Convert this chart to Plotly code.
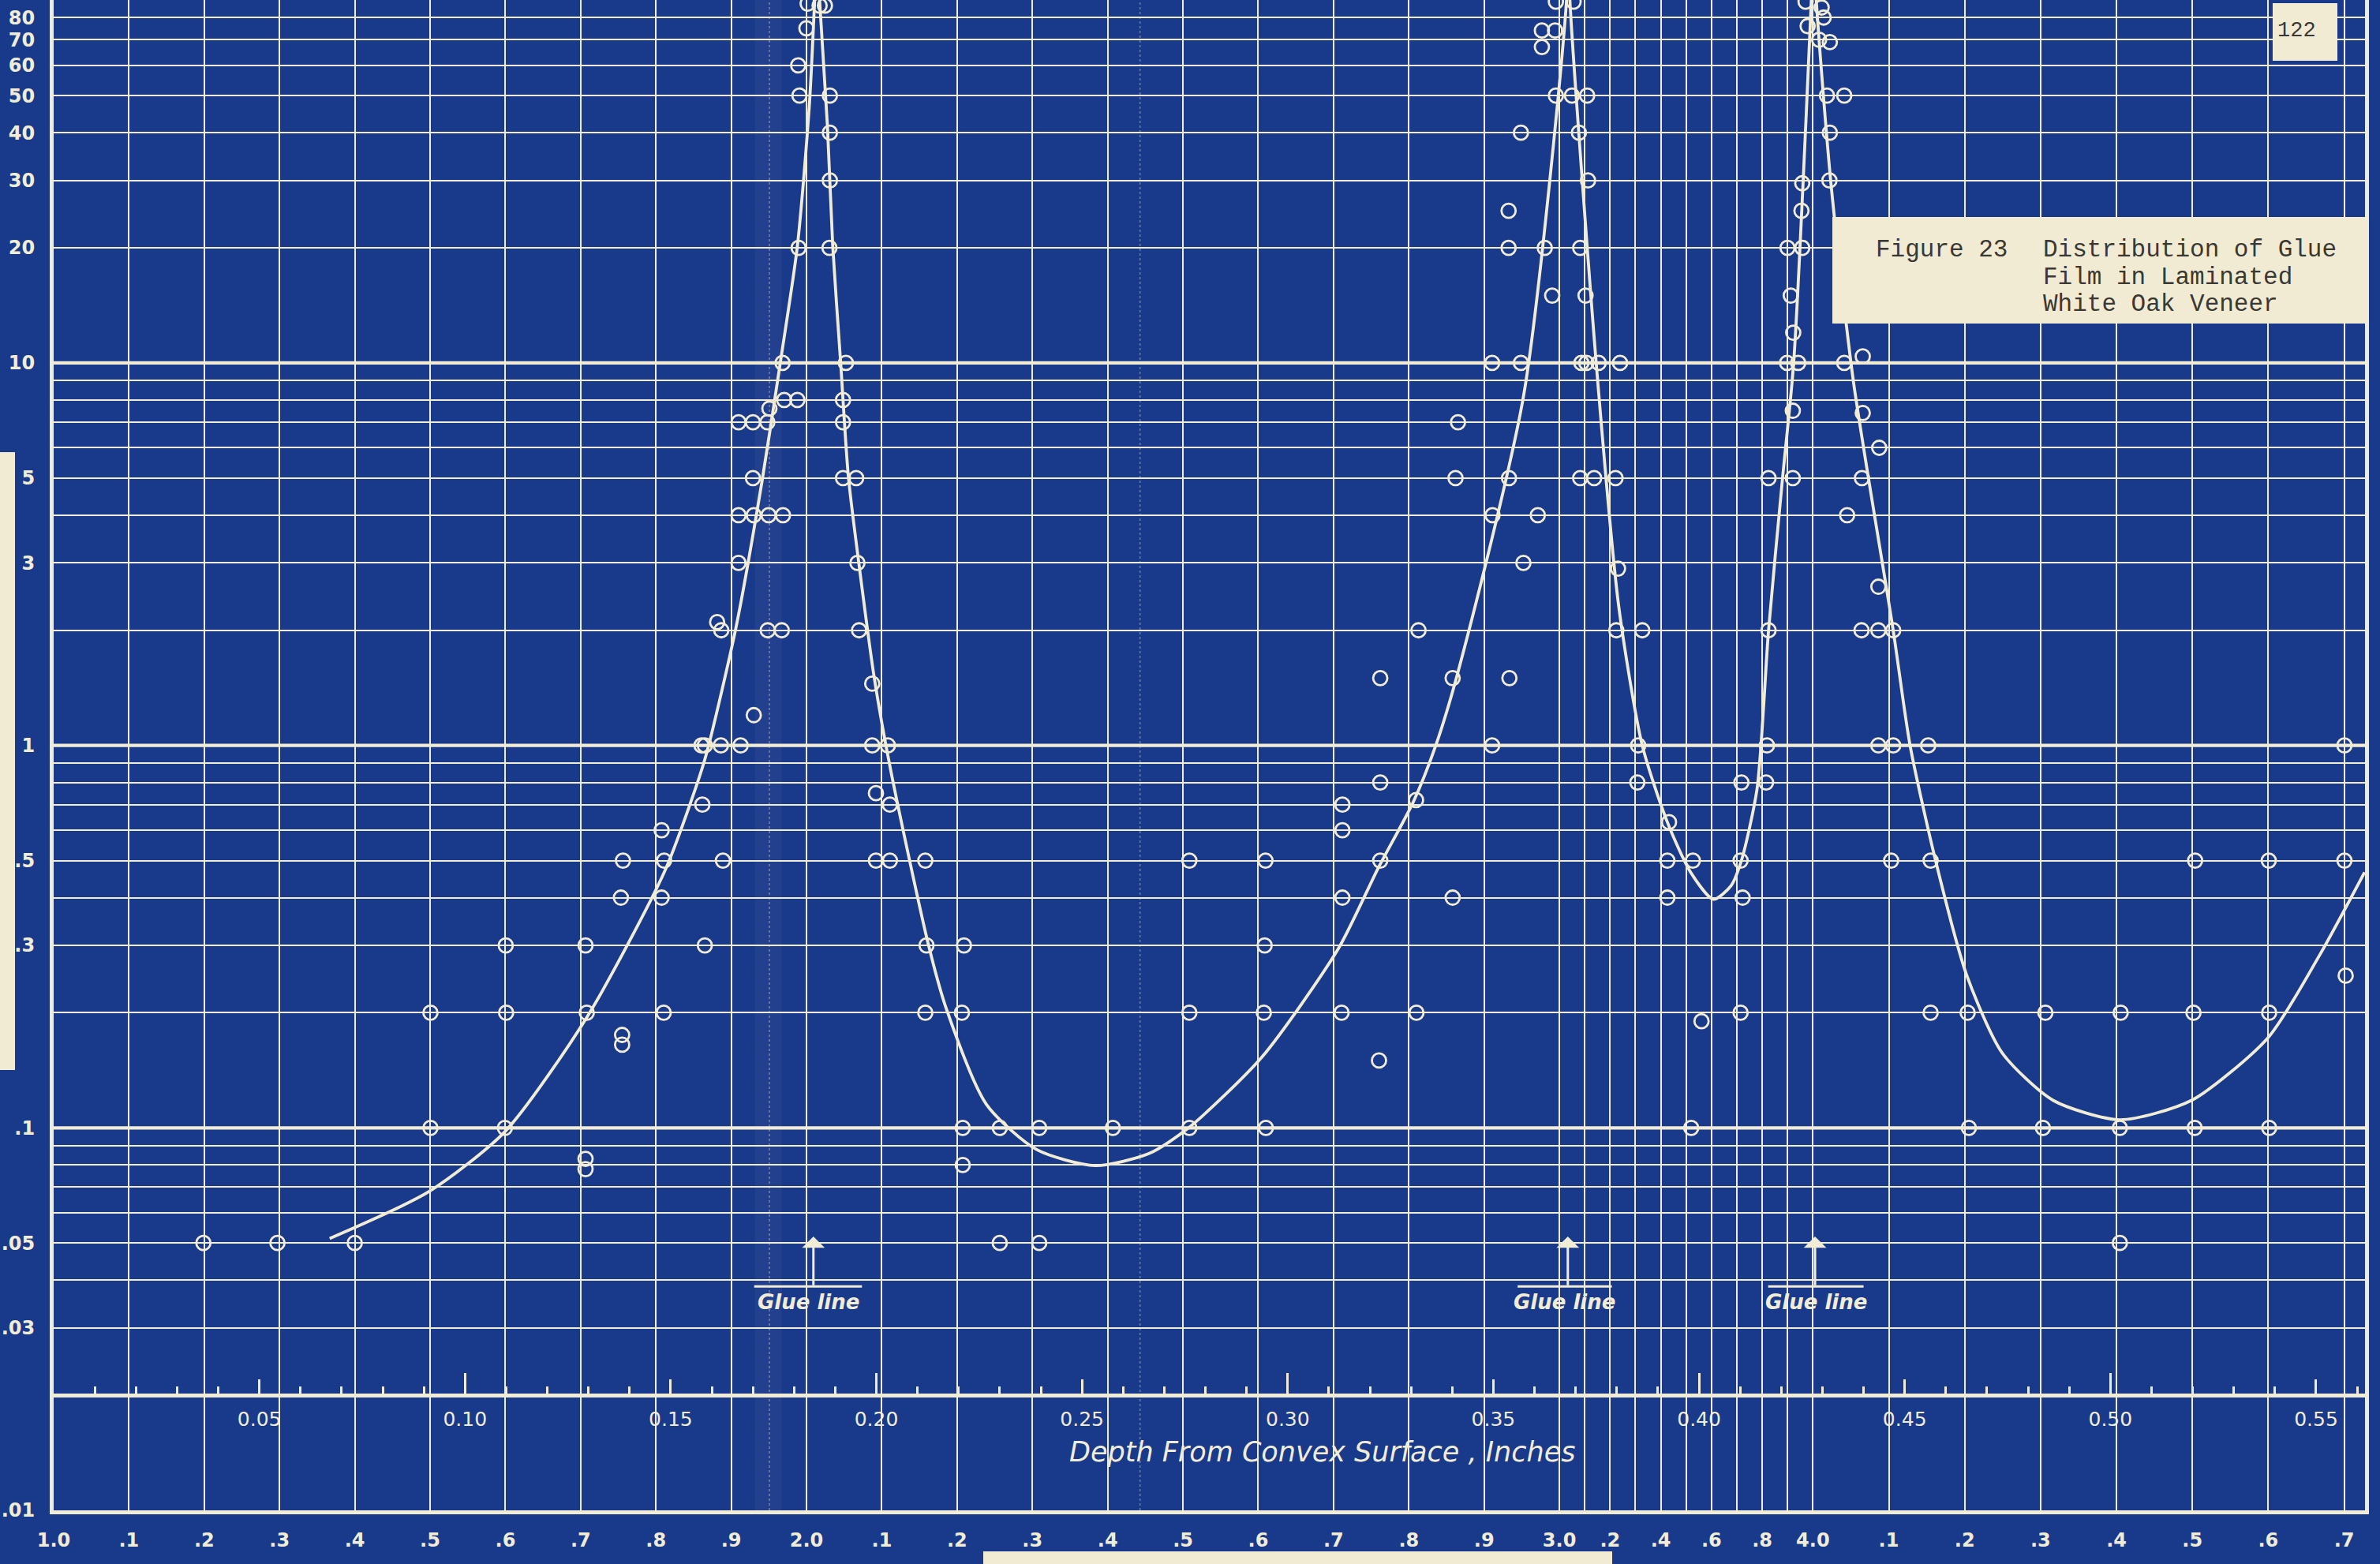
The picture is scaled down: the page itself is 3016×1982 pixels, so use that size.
import math
import numpy as np
import plotly.graph_objects as go

# ---------------------------------------------------------------- colours
BLUE = "#19398a"       # blueprint ground
CREAM = "#f1ecd6"      # white of the print
PAPER = "#f2ebd3"      # pasted paper slips
INK = "#3a3833"        # typewriter ink

# ------------------------------------------------ measured glue film (circles)
obs_depth = [
    0.0364, 0.0544, 0.0732, 0.0916, 0.0916, 0.1097, 0.1100, 0.1099,
    0.1296, 0.1293, 0.1293, 0.1293, 0.1379, 0.1384, 0.1382, 0.1382,
    0.1483, 0.1478, 0.1484, 0.1478, 0.1583, 0.1577, 0.1627,
    0.1575, 0.1583, 0.1622, 0.1670, 0.1702, 0.1613, 0.1623, 0.1736, 0.1770,
    0.1665, 0.1665, 0.1702, 0.1738, 0.1773, 0.1700, 0.1665, 0.1700, 0.1735, 0.1740,
    0.1776, 0.1808, 0.1772, 0.1811, 0.1813, 0.1810, 0.1830, 0.1833, 0.1862, 0.1875,
    0.1887, 0.1887, 0.1887, 0.1886, 0.1926, 0.1919, 0.1919, 0.1919, 0.1951, 0.1954,
    0.1958, 0.1990, 0.1990, 0.2028, 0.1999, 0.2033, 0.1999, 0.2033, 0.2119, 0.2122,
    0.2213, 0.2119, 0.2208, 0.2210, 0.2210,
    0.2300, 0.2396, 0.2575, 0.2761, 0.2947, 0.2300, 0.2396,
    0.2761, 0.2946, 0.2944, 0.2761, 0.2942, 0.3131, 0.3133, 0.3133, 0.3133, 0.3222,
    0.3225, 0.3225, 0.3225, 0.3313, 0.3312, 0.3318, 0.3401, 0.3401, 0.3414, 0.3408,
    0.3497, 0.3539, 0.3498, 0.3497, 0.3537, 0.3537, 0.3538, 0.3567, 0.3567, 0.3573,
    0.3608, 0.3618, 0.3618, 0.3650, 0.3652, 0.3695, 0.3643, 0.3625, 0.3652, 0.3691,
    0.3728, 0.3708, 0.3730, 0.3711, 0.3724, 0.3714, 0.3726, 0.3756, 0.3808,
    0.3711, 0.3745, 0.3797, 0.3803, 0.3799, 0.3862, 0.3852, 0.3850,
    0.3927, 0.3923, 0.3985, 0.3923, 0.3981, 0.4006,
    0.4101, 0.4103, 0.4106, 0.4101, 0.4163, 0.4165, 0.4169, 0.4169, 0.4228, 0.4228,
    0.4214, 0.4241, 0.4215, 0.4251, 0.4223, 0.4229, 0.4249, 0.4251,
    0.4259, 0.4264, 0.4298, 0.4303, 0.4292, 0.4318, 0.4311, 0.4353, 0.4318, 0.4317,
    0.4353, 0.4398, 0.4398, 0.4438, 0.4396, 0.4360, 0.4436,
    0.4395, 0.4436, 0.4472, 0.4436, 0.4472, 0.4557,
    0.4467, 0.4563, 0.4563, 0.4653, 0.4842, 0.5025, 0.5202, 0.5386,
    0.4656, 0.4836, 0.5023, 0.5205, 0.5386, 0.5023,
    0.5206, 0.5385, 0.5569, 0.5569, 0.5572,
]
obs_value = [
    0.05, 0.05, 0.05, 0.2, 0.1, 0.1, 0.2, 0.3,
    0.2, 0.3, 0.083, 0.078, 0.4, 0.5, 0.175, 0.165,
    0.2, 0.4, 0.5, 0.6, 0.3, 0.7, 0.5,
    1.0, 1.0, 1.0, 1.0, 1.2, 2.1, 2.0, 2.0, 2.0,
    3.0, 4.0, 4.0, 4.0, 4.0, 5.0, 7.0, 7.0, 7.0, 7.6,
    8.0, 8.0, 10.0, 20.0, 50.0, 60.0, 75.0, 87.0, 86.0, 86.0,
    50.0, 40.0, 30.0, 20.0, 10.0, 8.0, 7.0, 5.0, 5.0, 3.0,
    2.0, 1.45, 1.0, 1.0, 0.75, 0.70, 0.5, 0.5, 0.5, 0.3,
    0.3, 0.2, 0.2, 0.1, 0.08,
    0.1, 0.1, 0.1, 0.1, 0.1, 0.05, 0.05,
    0.5, 0.5, 0.3, 0.2, 0.2, 0.2, 0.4, 0.6, 0.7, 0.15,
    0.5, 0.8, 1.5, 0.2, 0.72, 2.0, 1.5, 0.4, 7.0, 5.0,
    1.0, 1.5, 4.0, 10.0, 25.0, 20.0, 5.0, 40.0, 10.0, 3.0,
    4.0, 74.0, 67.0, 74.0, 88.0, 88.0, 15.0, 20.0, 50.0, 50.0,
    50.0, 40.0, 30.0, 20.0, 15.0, 10.0, 10.0, 10.0, 10.0,
    5.0, 5.0, 5.0, 2.9, 2.0, 2.0, 1.0, 0.8,
    0.63, 0.5, 0.5, 0.4, 0.1, 0.19,
    0.5, 0.8, 0.4, 0.2, 0.8, 1.0, 2.0, 5.0, 5.0, 7.5,
    10.0, 10.0, 20.0, 20.0, 15.0, 12.0, 25.0, 29.5,
    88.0, 76.0, 85.0, 80.0, 70.0, 69.0, 50.0, 50.0, 40.0, 30.0,
    10.0, 10.4, 7.4, 6.0, 5.0, 4.0, 2.6,
    2.0, 2.0, 2.0, 1.0, 1.0, 1.0,
    0.5, 0.5, 0.2, 0.2, 0.2, 0.2, 0.2, 0.2,
    0.1, 0.1, 0.1, 0.1, 0.1, 0.05,
    0.5, 0.5, 0.5, 1.0, 0.25,
]

# ------------------------------------------------------ faired curve through them
curve_depth = [
    0.0671, 0.0912, 0.1098, 0.1298, 0.1484, 0.1560, 0.1588, 0.1659, 0.1722,
    0.1767, 0.1808, 0.1837, 0.1850, 0.1856, 0.1862, 0.1881, 0.1894, 0.1913,
    0.1932, 0.1957, 0.1995, 0.2035, 0.2127, 0.2170, 0.2268, 0.2390, 0.2532,
    0.2663, 0.2759, 0.2937, 0.3123, 0.3220, 0.3305, 0.3360, 0.3415, 0.3574,
    0.3678, 0.3682, 0.3686, 0.3750, 0.3805, 0.3862, 0.3923, 0.3979, 0.4035,
    0.4078, 0.4103, 0.4141, 0.4169, 0.4203, 0.4230, 0.4273, 0.4279, 0.4285,
    0.4320, 0.4375, 0.4472, 0.4513, 0.4575, 0.4650, 0.4737, 0.4861, 0.5023,
    0.5197, 0.5383, 0.5507, 0.5618,
]
curve_value = [
    0.0514, 0.0681, 0.098, 0.196, 0.465, 0.77, 0.96, 2.04, 4.9,
    10.1, 20.2, 47.0, 89.0, 130.0, 89.0, 41.8, 20.2, 10.1,
    5.04, 3.02, 1.50, 0.86, 0.30, 0.205, 0.115, 0.0877, 0.0797,
    0.0857, 0.100, 0.153, 0.294, 0.478, 0.71, 1.00, 1.57, 8.27,
    89.0, 130.0, 89.0, 10.0, 2.3, 1.0, 0.63, 0.467, 0.396,
    0.43, 0.5, 0.77, 2.0, 5.0, 10.0, 89.0, 130.0, 89.0,
    30.0, 9.0, 2.0, 1.0, 0.5, 0.252, 0.157, 0.118, 0.105,
    0.118, 0.172, 0.281, 0.466,
]

# ------------------------------------------------------------- depth scale
depth_ticks = [0.05, 0.10, 0.15, 0.20, 0.25, 0.30, 0.35, 0.40, 0.45, 0.50, 0.55]
depth_tick_text = ["0.05", "0.10", "0.15", "0.20", "0.25", "0.30",
                   "0.35", "0.40", "0.45", "0.50", "0.55"]
depth_long_ticks = [0.10, 0.20, 0.30, 0.40, 0.50]

# ----------------------------------------------------------- log ordinate
y_tick_vals = [0.01, 0.03, 0.05, 0.1, 0.3, 0.5, 1, 3, 5, 10, 20, 30, 40, 50, 60, 70, 80]
y_tick_text = [".01", ".03", ".05", ".1", ".3", ".5", "1", "3", "5",
               "10", "20", "30", "40", "50", "60", "70", "80"]
y_minor_vals = [0.02, 0.04, 0.06, 0.07, 0.08, 0.09, 0.2, 0.4, 0.6, 0.7, 0.8, 0.9,
                2, 4, 6, 7, 8, 9]
decade_lines = [0.1, 1, 10]

# ------------------------------------- printed scale of the graph sheet itself
paper_scale = [1.0, 1.1, 1.2, 1.3, 1.4, 1.5, 1.6, 1.7, 1.8, 1.9,
               2.0, 2.1, 2.2, 2.3, 2.4, 2.5, 2.6, 2.7, 2.8, 2.9,
               3.0, 3.2, 3.4, 3.6, 3.8, 4.0, 4.1, 4.2, 4.3, 4.4, 4.5, 4.6, 4.7]
paper_labels = ["1.0", ".1", ".2", ".3", ".4", ".5", ".6", ".7", ".8", ".9",
                "2.0", ".1", ".2", ".3", ".4", ".5", ".6", ".7", ".8", ".9",
                "3.0", ".2", ".4", ".6", ".8", "4.0", ".1", ".2", ".3", ".4", ".5", ".6", ".7"]
paper_minor = [3.1, 3.3, 3.5, 3.7, 3.9]
PAPER_KNOTS = [1.0, 3.0, 4.0, 4.7]
DEPTH_KNOTS = [0.0, 0.36605, 0.42768, 0.55683]


def sheet_to_depth(values):
    return [float(v) for v in np.interp(values, PAPER_KNOTS, DEPTH_KNOTS)]


# glue-line markers
glue_arrow = [0.1847, 0.3681, 0.4282]
glue_bar_from = [0.1703, 0.3559, 0.4168]
glue_bar_to = [0.1965, 0.3788, 0.4400]
GLUE_TIP = 0.052
GLUE_BAR = 0.0385

# ------------------------------------------------------------------ frame
W, H = 3016, 1982
ML, MR, MT, MB = 68, 19, 0, 68
XMAX = 0.5619
YBOT, YTOP = -2.0, 1.949
PW, PH = W - ML - MR, H - MT - MB
depth_axis_pos = (math.log10(0.02) - YBOT) / (YTOP - YBOT)


def px(xpix):
    return (xpix - ML) / PW


def py(ypix):
    return (MT + PH - ypix) / PH


HAND = "DejaVu Sans"
MONO = "Liberation Mono"

fig = go.Figure()

fig.add_trace(go.Scatter(
    x=curve_depth, y=curve_value, mode="lines",
    line=dict(color=CREAM, width=3.8, shape="spline", smoothing=0.7),
    hoverinfo="skip", showlegend=False,
))
fig.add_trace(go.Scatter(
    x=obs_depth, y=obs_value, mode="markers",
    marker=dict(symbol="circle-open", size=18, color=CREAM,
                line=dict(width=2.8, color=CREAM)),
    hoverinfo="skip", showlegend=False,
))
# carriers for the sheet scale and the long depth ticks
for ax in ("x2", "x3"):
    fig.add_trace(go.Scatter(x=[0.1], y=[1], xaxis=ax, yaxis="y", mode="markers",
                             marker=dict(opacity=0), hoverinfo="skip", showlegend=False))

shapes = []
for v in decade_lines:
    shapes.append(dict(type="line", xref="x", yref="y", x0=0, x1=XMAX, y0=v, y1=v,
                       line=dict(color=CREAM, width=4.2), layer="below"))
# fold marks of the print
shapes.append(dict(type="rect", xref="x", yref="paper", x0=0.1705, x1=0.1770, y0=0, y1=1,
                   fillcolor="rgba(255,255,255,0.04)", line=dict(width=0), layer="below"))
shapes.append(dict(type="line", xref="x", yref="paper", x0=0.1740, x1=0.1740, y0=0, y1=1,
                   line=dict(color="rgba(241,236,214,0.30)", width=2, dash="dot"), layer="below"))
shapes.append(dict(type="line", xref="x", yref="paper", x0=0.2641, x1=0.2641, y0=0, y1=1,
                   line=dict(color="rgba(241,236,214,0.30)", width=2, dash="dot"), layer="below"))
# overbars of the glue-line labels
for a, b in zip(glue_bar_from, glue_bar_to):
    shapes.append(dict(type="line", xref="x", yref="y", x0=a, x1=b, y0=GLUE_BAR, y1=GLUE_BAR,
                       line=dict(color=CREAM, width=3)))
# pasted slips
shapes.append(dict(type="rect", xref="paper", yref="paper", x0=px(2322), x1=px(3002),
                   y0=py(410), y1=py(275), fillcolor=PAPER, line=dict(width=0), layer="above"))
shapes.append(dict(type="rect", xref="paper", yref="paper", x0=px(2880), x1=px(2962),
                   y0=py(77), y1=py(4), fillcolor=PAPER, line=dict(width=0), layer="above"))
shapes.append(dict(type="rect", xref="paper", yref="paper", x0=px(0), x1=px(19),
                   y0=py(1356), y1=py(573), fillcolor=PAPER, line=dict(width=0), layer="above"))
shapes.append(dict(type="rect", xref="paper", yref="paper", x0=px(1246), x1=px(2043),
                   y0=py(1984), y1=py(1966), fillcolor=PAPER, line=dict(width=0), layer="above"))

annotations = [
    dict(text="Depth From Convex Surface , Inches", xref="paper", yref="paper",
         x=px(1675), y=py(1840), xanchor="center", yanchor="middle", showarrow=False,
         font=dict(family=HAND, size=35, color=CREAM, style="italic")),
    dict(text="Figure 23", xref="paper", yref="paper", x=px(2375), y=py(316),
         xanchor="left", yanchor="middle", showarrow=False,
         font=dict(family=MONO, size=31, color=INK)),
    dict(text="122", xref="paper", yref="paper", x=px(2910), y=py(39),
         xanchor="center", yanchor="middle", showarrow=False,
         font=dict(family=MONO, size=27, color=INK)),
]
for line_text, ypix in zip(["Distribution of Glue", "Film in Laminated", "White Oak Veneer"],
                           [316, 351, 385]):
    annotations.append(dict(text=line_text, xref="paper", yref="paper", x=px(2587), y=py(ypix),
                            xanchor="left", yanchor="middle", showarrow=False,
                            font=dict(family=MONO, size=31, color=INK)))
for a, b, d in zip(glue_bar_from, glue_bar_to, glue_arrow):
    annotations.append(dict(text="Glue line", xref="x", yref="y", x=(a + b) / 2,
                            y=math.log10(GLUE_BAR), xanchor="center", yanchor="top",
                            yshift=-3, showarrow=False,
                            font=dict(family=HAND, size=26, color=CREAM, style="italic",
                                      weight=700)))
    annotations.append(dict(text="", xref="x", yref="y", x=d, y=math.log10(GLUE_TIP),
                            axref="x", ayref="y", ax=d, ay=math.log10(GLUE_BAR),
                            showarrow=True, arrowhead=1, arrowsize=1.6, arrowwidth=3,
                            arrowcolor=CREAM, standoff=0, startstandoff=0))

fig.update_layout(
    width=W, height=H,
    margin=dict(l=ML, r=MR, t=MT, b=MB, pad=0),
    paper_bgcolor=BLUE, plot_bgcolor=BLUE,
    showlegend=False, hovermode=False,
    font=dict(family=HAND, color=CREAM),
    shapes=shapes, annotations=annotations,
    xaxis=dict(
        range=[0, XMAX], anchor="free", position=depth_axis_pos, side="bottom",
        showgrid=False, zeroline=False, automargin=False,
        showline=True, linecolor=CREAM, linewidth=5,
        tickmode="array", tickvals=depth_ticks, ticktext=depth_tick_text,
        ticks="inside", ticklen=18, tickwidth=3, tickcolor=CREAM,
        tickangle=0, ticklabelstandoff=6,
        tickfont=dict(family=HAND, size=25, color=CREAM),
        minor=dict(tickmode="linear", tick0=0, dtick=0.01, ticks="inside",
                   ticklen=9, tickwidth=3, tickcolor=CREAM, showgrid=False),
    ),
    xaxis3=dict(
        range=[0, XMAX], overlaying="x", anchor="free", position=depth_axis_pos,
        side="bottom", showgrid=False, zeroline=False, showline=False, automargin=False,
        tickmode="array", tickvals=depth_long_ticks, ticks="inside", ticklen=28,
        tickwidth=3, tickcolor=CREAM, showticklabels=False,
    ),
    xaxis2=dict(
        range=[0, XMAX], overlaying="x", anchor="y", side="bottom",
        zeroline=False, automargin=False,
        showline=True, linecolor=CREAM, linewidth=5,
        tickmode="array", tickvals=sheet_to_depth(paper_scale), ticktext=paper_labels,
        ticks="", tickangle=0, ticklabelstandoff=12,
        tickfont=dict(family=HAND, size=24, color=CREAM, weight=700),
        showgrid=True, gridcolor=CREAM, gridwidth=2,
        minor=dict(tickmode="array", tickvals=sheet_to_depth(paper_minor),
                   showgrid=True, gridcolor=CREAM, gridwidth=2, ticks=""),
    ),
    yaxis=dict(
        type="log", range=[YBOT, YTOP], zeroline=False, automargin=False,
        showline=True, linecolor=CREAM, linewidth=5, mirror=True,
        tickmode="array", tickvals=y_tick_vals, ticktext=y_tick_text,
        ticks="", ticklabelstandoff=14,
        tickfont=dict(family=HAND, size=24, color=CREAM, weight=700),
        showgrid=True, gridcolor=CREAM, gridwidth=2.2,
        minor=dict(tickmode="array", tickvals=y_minor_vals, showgrid=True,
                   gridcolor=CREAM, gridwidth=2.2, ticks=""),
    ),
)

fig.write_html("out.html")
